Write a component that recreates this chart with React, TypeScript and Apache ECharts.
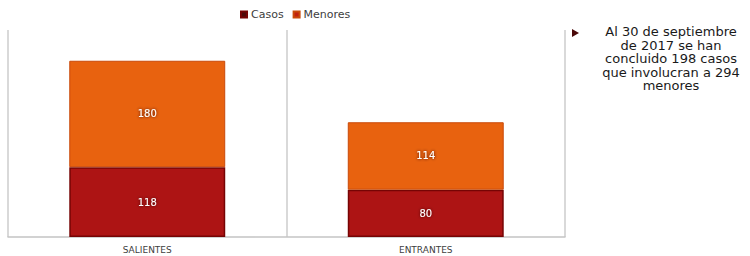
import React, { useEffect, useRef } from "react";
import * as echarts from "echarts";

const categories = ["SALIENTES", "ENTRANTES"];
const casos = [118, 80];
const menores = [180, 114];
const seriesNames = ["Casos", "Menores"];
const noteLines = [
  "Al 30 de septiembre",
  "de 2017 se han",
  "concluido 198 casos",
  "que involucran a 294",
  "menores",
];

const FONT = "DejaVu Sans";

export default function App() {
  const ref = useRef<HTMLDivElement>(null);
  useEffect(() => {
    document.body.style.margin = "0";
    if (!ref.current) return;
    const chart = echarts.init(ref.current, null, { renderer: "svg" });
    const labelStyle = {
      show: true,
      position: "inside",
      color: "#ffffff",
      fontSize: 10,
      fontFamily: FONT,
      textShadowColor: "#3a0000",
      textShadowBlur: 3,
    };
    chart.setOption({
      animation: false,
      backgroundColor: "#ffffff",
      legend: {
        left: 235,
        top: 4,
        itemWidth: 6,
        itemHeight: 6,
        itemGap: 9,
        icon: "rect",
        textStyle: { fontFamily: FONT, fontSize: 11, color: "#404040", padding: [0, 0, 0, -1] },
        data: [
          { name: seriesNames[0], itemStyle: { color: "#4d0a0a" } },
          { name: seriesNames[1], itemStyle: { color: "#c0210f" } },
        ],
      },
      grid: { left: 8, right: 185, top: 30, bottom: 19, containLabel: false },
      xAxis: {
        type: "category",
        data: categories,
        axisLine: { show: true, lineStyle: { color: "#c4c4c4", width: 1.5 } },
        axisTick: { show: false },
        axisLabel: { fontFamily: FONT, fontSize: 9, color: "#404040", margin: 8 },
        splitLine: { show: true, lineStyle: { color: "#cccccc", width: 1.5 } },
      },
      yAxis: {
        type: "value",
        min: 0,
        max: 350,
        show: false,
        splitLine: { show: false },
      },
      series: [
        {
          name: seriesNames[0],
          type: "bar",
          stack: "total",
          barWidth: "56%",
          data: casos,
          itemStyle: { color: "#ad1414", borderColor: "#760404", borderWidth: 1.5 },
          label: labelStyle,
        },
        {
          name: seriesNames[1],
          type: "bar",
          stack: "total",
          barWidth: "56%",
          data: menores,
          itemStyle: { color: "#e8620f", borderColor: "#c94a0a", borderWidth: 1 },
          label: labelStyle,
        },
      ],
      graphic: [
        {
          type: "polygon",
          shape: { points: [[572, 29], [572, 37], [579, 33]] },
          style: { fill: "#4a0808" },
        },
        {
          type: "text",
          x: 671,
          y: 25,
          style: {
            text: noteLines.join("\n"),
            fontFamily: FONT,
            fontSize: 13,
            lineHeight: 13.5,
            fill: "#1a1a1a",
            align: "center",
            verticalAlign: "top",
          },
        },
      ],
    });
    return () => chart.dispose();
  }, []);
  return <div ref={ref} style={{ width: 750, height: 256 }} />;
}
